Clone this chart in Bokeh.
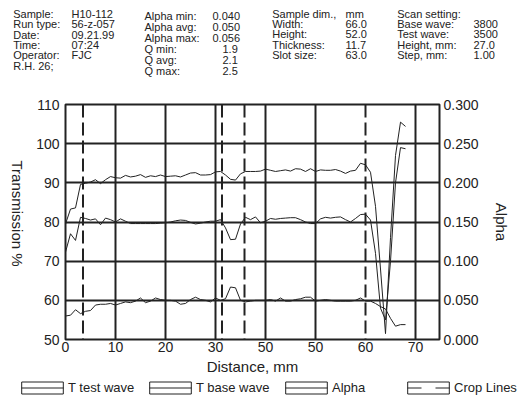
import math
from bokeh.plotting import figure
from bokeh.layouts import column, row
from bokeh.models import (Range1d, LinearAxis, FixedTicker, NumeralTickFormatter,
                          CustomJSTickFormatter, Span, Label, Legend, LegendItem)
from bokeh.embed import file_html
from bokeh.resources import INLINE

# ---------------- data ----------------
distance = list(range(0, 69))
t_test = [79.5, 83.3, 83.6, 89.6, 89.9, 90.2, 90.8, 89.8, 90.8, 91.6,
          91.3, 91.2, 91.9, 91.5, 91.7, 92.1, 91.4, 91.8, 91.6, 92.0,
          91.6, 91.7, 91.8, 91.5, 92.0, 92.5, 92.6, 92.0, 92.0, 92.1,
          92.8, 92.9, 92.0, 90.9, 90.7, 92.3, 92.9, 92.9, 92.9, 93.0,
          93.5, 93.2, 92.9, 93.1, 93.3, 93.0, 93.6, 93.5, 92.9, 93.6,
          92.9, 93.3, 93.2, 93.2, 93.4, 93.0, 92.4, 93.0, 93.2, 95.0,
          94.6, 92.7, 84.0, 68.0, 51.5, 76.0, 97.0, 105.5, 104.4]
t_base = [72.3, 77.0, 75.3, 81.2, 80.9, 80.5, 80.8, 79.3, 81.0, 80.6,
          80.0, 80.8, 80.2, 79.6, 79.6, 79.6, 79.6, 79.6, 79.6, 79.7,
          79.8, 80.0, 80.3, 80.5, 80.4, 79.9, 79.5, 79.7, 80.0, 80.2,
          80.2, 80.6, 78.5, 75.5, 75.6, 79.5, 81.2, 80.6, 81.3, 79.8,
          80.2, 80.9, 80.7, 80.9, 81.0, 81.1, 81.1, 80.6, 80.0, 79.6,
          79.6, 80.8, 81.2, 81.0, 81.2, 81.3, 80.6, 80.0, 80.9, 81.9,
          82.0, 80.5, 72.0, 58.0, 55.0, 70.0, 90.0, 99.0, 98.7]
alpha = [0.030, 0.031, 0.038, 0.033, 0.036, 0.037, 0.044, 0.045, 0.045, 0.046,
         0.044, 0.046, 0.048, 0.047, 0.049, 0.053, 0.047, 0.049, 0.053, 0.051,
         0.050, 0.050, 0.049, 0.045, 0.046, 0.051, 0.054, 0.051, 0.050, 0.048,
         0.053, 0.050, 0.052, 0.067, 0.066, 0.050, 0.048, 0.049, 0.050, 0.050,
         0.050, 0.051, 0.049, 0.053, 0.049, 0.049, 0.051, 0.052, 0.054, 0.054,
         0.049, 0.050, 0.051, 0.050, 0.049, 0.049, 0.049, 0.049, 0.050, 0.053,
         0.049, 0.049, 0.046, 0.042, 0.039, 0.027, 0.017, 0.019, 0.019]
crop_lines = [3.5, 31.3, 35.8, 60.0]

x_ticks = [0, 10, 20, 30, 40, 50, 60, 70]
x_tick_labels = ["0", "10", "20", "30", "50", "50", "60", "70"]
y_ticks = [50, 60, 70, 80, 90, 100, 110]
alpha_ticks = [0.0, 0.05, 0.1, 0.15, 0.2, 0.25, 0.3]

legend_labels = ["T test wave", "T base wave", "Alpha", "Crop Lines"]

hdr1_labels = ["Sample:", "Run type:", "Date:", "Time:", "Operator:", "R.H. 26;"]
hdr1_values = ["H10-112", "56-z-057", "09.21.99", "07:24", "FJC", ""]
hdr2_labels = ["Alpha min:", "Alpha avg:", "Alpha max:", "Q min:", "Q avg:", "Q max:"]
hdr2_values = ["0.040", "0.050", "0.056", "1.9", "2.1", "2.5"]
hdr3_labels = ["Sample dim.,", "Width:", "Height:", "Thickness:", "Slot size:"]
hdr3_values = ["mm", "66.0", "52.0", "11.7", "63.0"]
hdr4_labels = ["Scan setting:", "Base wave:", "Test wave:", "Height, mm:", "Step, mm:"]
hdr4_values = ["", "3800", "3500", "27.0", "1.00"]

# ---------------- style ----------------
FONT = "Liberation Sans"
INK = "#222222"
W = 518
H_HEAD, H_MAIN, H_LEG = 88, 290, 24
W_YLAB = 30
NAN = float("nan")

def blank_panel(width, height, xr, yr):
    f = figure(width=width, height=height, x_range=xr, y_range=yr,
               output_backend="svg", toolbar_location=None,
               x_axis_location=None, y_axis_location=None, min_border=0)
    f.frame_align = False
    f.outline_line_color = None
    f.grid.visible = False
    return f

# ---- header block (coordinates = pixels) ----
head = blank_panel(W, H_HEAD, Range1d(0, W), Range1d(H_HEAD, 0))

def header(labels, values, x_lab, x_val, y0, dy):
    for i, (lab, val) in enumerate(zip(labels, values)):
        y = y0 + i * dy
        for txt, xx in ((lab, x_lab), (val, x_val)):
            if txt:
                head.add_layout(Label(x=xx, y=y, text=txt, text_baseline="middle",
                                      text_align="left", text_font=FONT,
                                      text_font_size="11px", text_color=INK))

header(hdr1_labels, hdr1_values, 12.7, 71, 13.3, 10.4)
header(hdr2_labels[:3], hdr2_values[:3], 144, 212, 15, 11)
header(hdr2_labels[3:], hdr2_values[3:], 144, 222, 48, 11)
header(hdr3_labels, hdr3_values, 271.7, 345, 13.3, 10.3)
header(hdr4_labels, hdr4_values, 396.7, 473, 13.3, 10.3)

# ---- left axis title strip (reads top to bottom) ----
ylab = blank_panel(W_YLAB, H_MAIN, Range1d(0, W_YLAB), Range1d(H_MAIN, 0))
ylab.add_layout(Label(x=17, y=213 - H_HEAD, text="Transmission %", angle=-math.pi / 2,
                      text_align="center", text_baseline="middle", text_font=FONT,
                      text_font_size="15px", text_color=INK))

# ---- main chart ----
p = figure(width=W - W_YLAB, height=H_MAIN, x_range=Range1d(0, 74.8), y_range=Range1d(50, 110),
           output_backend="svg", toolbar_location=None,
           min_border_left=65 - W_YLAB, min_border_right=79, min_border_top=16,
           min_border_bottom=39)
p.frame_align = False
p.outline_line_color = INK
p.outline_line_width = 2

def style_axis(ax, standoff):
    ax.axis_line_color = None
    ax.major_tick_line_color = None
    ax.minor_tick_line_color = None
    ax.major_tick_out = 0
    ax.major_tick_in = 0
    ax.minor_tick_out = 0
    ax.minor_tick_in = 0
    ax.major_label_text_font = FONT
    ax.major_label_text_font_size = "14px"
    ax.major_label_text_color = INK
    ax.major_label_standoff = standoff
    ax.axis_label_text_font = FONT
    ax.axis_label_text_font_size = "15px"
    ax.axis_label_text_font_style = "normal"
    ax.axis_label_text_color = INK

xax = p.below[0]
xax.ticker = FixedTicker(ticks=x_ticks)
xax.formatter = CustomJSTickFormatter(args=dict(labels=x_tick_labels),
                                      code="return labels[index]")
xax.axis_label = "Distance, mm"
xax.axis_label_standoff = 3
style_axis(xax, 2)

yax = p.left[0]
yax.ticker = FixedTicker(ticks=y_ticks)
style_axis(yax, 6)

p.extra_y_ranges = {"alpha": Range1d(0, 0.3)}
rax = LinearAxis(y_range_name="alpha", ticker=FixedTicker(ticks=alpha_ticks),
                 formatter=NumeralTickFormatter(format="0.000"), axis_label="Alpha")
style_axis(rax, 4)
rax.axis_label_standoff = 11
p.add_layout(rax, "right")

p.xgrid.ticker = FixedTicker(ticks=[t for t in x_ticks if t not in crop_lines])
p.ygrid.ticker = FixedTicker(ticks=y_ticks)
for g in (p.xgrid, p.ygrid):
    g.grid_line_color = INK
    g.grid_line_width = 2
    g.grid_line_alpha = 1.0

p.line(distance, t_test, line_color=INK, line_width=1)
p.line(distance, t_base, line_color=INK, line_width=1)
p.line(distance, alpha, line_color=INK, line_width=1, y_range_name="alpha")

for c in crop_lines:
    p.add_layout(Span(location=c, dimension="height", line_color=INK,
                      line_width=2, line_dash="13 5"))

# ---- legend strip ----
leg_fig = blank_panel(W, H_LEG, Range1d(0, 1), Range1d(0, 1))

mid_dashes = ["0 5 42 20", "0 5 42 20", "0 5 42 20", "0 5 14 14 14 20"]
legend_x = [16, 144, 280, 402]
for lab, dash, lx in zip(legend_labels, mid_dashes, legend_x):
    box = leg_fig.quad(left=[NAN], right=[NAN], top=[NAN], bottom=[NAN],
                       fill_color="white", line_color=INK, line_width=1)
    mid = leg_fig.line([NAN], [NAN], line_color=INK, line_width=1, line_dash=dash)
    leg = Legend(items=[LegendItem(label=lab, renderers=[box, mid])],
                 location=(lx, 7), orientation="horizontal",
                 glyph_width=52, glyph_height=15, label_height=15, label_standoff=0,
                 padding=0, margin=0, spacing=0, border_line_color=None,
                 background_fill_alpha=0, label_text_font=FONT,
                 label_text_font_size="13px", label_text_color=INK)
    leg_fig.add_layout(leg)

layout = column(head, row(ylab, p, spacing=0), leg_fig, spacing=0)
open("out.html", "w").write(file_html(layout, INLINE))
